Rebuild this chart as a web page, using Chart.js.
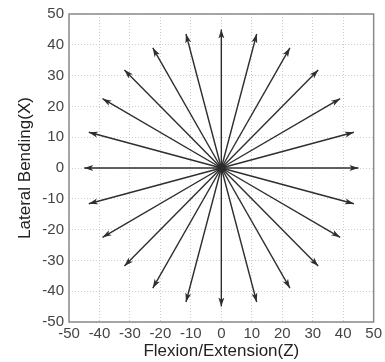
<!DOCTYPE html>
<html>
<head>
<meta charset="utf-8">
<script src="https://cdn.jsdelivr.net/npm/chart.js@4"></script>
<style>
  html, body { margin: 0; padding: 0; background: #fff; }
  #wrap { width: 385px; height: 362px; }
</style>
</head>
<body>
<div id="wrap"><canvas id="arrowChart" width="385" height="362"></canvas></div>
<script>
// arrow tips (Z = horizontal, X = vertical)
const tipsZ = [45, 43.5, 39, 31.8, 22.5, 11.6, 0, -11.6, -22.5, -31.8, -39, -43.5,
               -45, -43.5, -39, -31.8, -22.5, -11.6, 0, 11.6, 22.5, 31.8, 39, 43.5];
const tipsX = [0, 11.6, 22.5, 31.8, 39, 43.5, 45, 43.5, 39, 31.8, 22.5, 11.6,
               0, -11.6, -22.5, -31.8, -39, -43.5, -45, -43.5, -39, -31.8, -22.5, -11.6];
const origin = { x: 0, y: 0 };
const axisTicks = [-50, -40, -30, -20, -10, 0, 10, 20, 30, 40, 50];

const lineColor = '#2e2e2e';
const textColor = '#444';

// arrowheads at the end of each line
const arrowHeads = {
    id: 'arrowHeads',
    afterDatasetsDraw(chart) {
        const ctx = chart.ctx;
        chart.data.datasets.forEach((ds, i) => {
            if (!ds.isArrow) return;
            const pts = chart.getDatasetMeta(i).data;
            const a = pts[0], b = pts[1];
            const ang = Math.atan2(b.y - a.y, b.x - a.x);
            const len = 9, half = 3;
            ctx.save();
            ctx.translate(b.x, b.y);
            ctx.rotate(ang);
            ctx.beginPath();
            ctx.moveTo(0, 0);
            ctx.lineTo(-len, -half);
            ctx.lineTo(-len * 0.75, 0);
            ctx.lineTo(-len, half);
            ctx.closePath();
            ctx.fillStyle = lineColor;
            ctx.fill();
            ctx.restore();
        });
    }
};

// box around the plot area
const plotBox = {
    id: 'plotBox',
    afterDraw(chart) {
        const { ctx, chartArea: c } = chart;
        ctx.save();
        ctx.strokeStyle = '#8a8a8a';
        ctx.lineWidth = 1.5;
        ctx.strokeRect(c.left, c.top, c.right - c.left, c.bottom - c.top);
        ctx.restore();
    }
};

const datasets = tipsZ.map((z, i) => ({
    isArrow: true,
    data: [origin, { x: z, y: tipsX[i] }],
    showLine: true,
    borderColor: lineColor,
    borderWidth: 1.4,
    pointRadius: 0
}));
datasets.push({
    data: [origin],
    pointRadius: 4,
    backgroundColor: '#000',
    borderColor: '#000'
});

function fixedTicks(scale) {
    scale.ticks = axisTicks.map(v => ({ value: v }));
}

const tickFont = { family: 'Liberation Sans, Arial, sans-serif', size: 15 };
const titleFont = { family: 'Liberation Sans, Arial, sans-serif', size: 17 };

new Chart(document.getElementById('arrowChart'), {
    type: 'scatter',
    data: { datasets: datasets },
    options: {
        responsive: false,
        animation: false,
        layout: { padding: { top: 14, right: 6, left: 0, bottom: 0 } },
        plugins: {
            legend: { display: false },
            tooltip: { enabled: false }
        },
        scales: {
            x: {
                min: -50, max: 50,
                afterBuildTicks: fixedTicks,
                afterFit(scale) { scale.height = 40; },
                grid: { color: '#cdcdcd', lineWidth: 1, drawTicks: false },
                border: { display: false, dash: [1, 2] },
                ticks: { color: textColor, padding: 3, maxRotation: 0, font: tickFont },
                title: {
                    display: true,
                    text: 'Flexion/Extension(Z)',
                    color: '#222',
                    padding: { top: 0, bottom: 0 },
                    font: titleFont
                }
            },
            y: {
                min: -50, max: 50,
                afterBuildTicks: fixedTicks,
                afterFit(scale) { scale.width = 69; },
                grid: { color: '#cdcdcd', lineWidth: 1, drawTicks: false },
                border: { display: false, dash: [1, 2] },
                ticks: { color: textColor, padding: 5, font: tickFont },
                title: {
                    display: true,
                    text: 'Lateral Bending(X)',
                    color: '#222',
                    padding: { top: 15, bottom: 0 },
                    font: titleFont
                }
            }
        }
    },
    plugins: [arrowHeads, plotBox]
});
</script>
</body>
</html>
